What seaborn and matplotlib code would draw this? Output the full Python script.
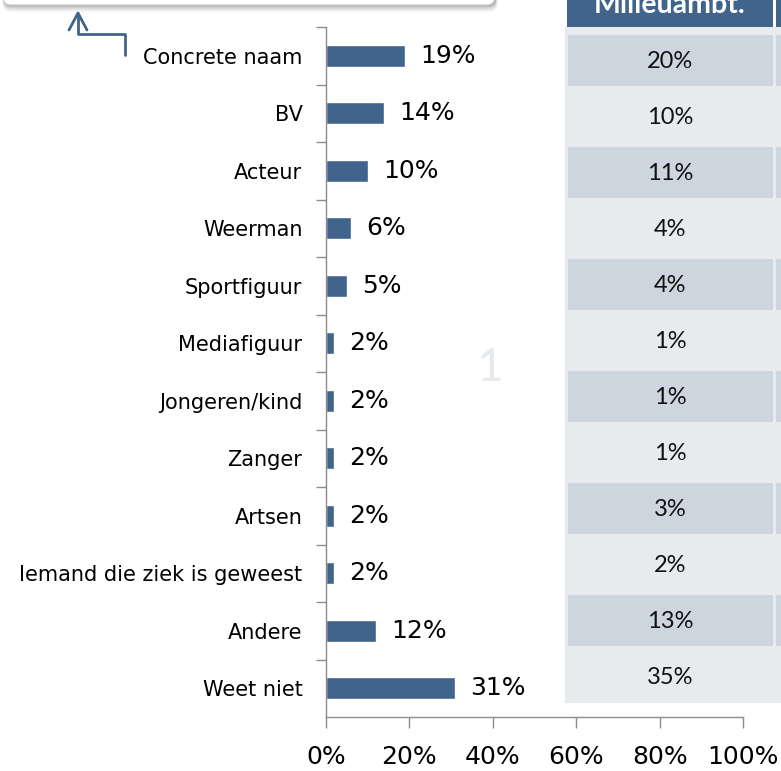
import numpy as np
import pandas as pd
import matplotlib
matplotlib.use("Agg")
import matplotlib.pyplot as plt
from matplotlib.patches import Rectangle, FancyBboxPatch
from matplotlib.lines import Line2D
import seaborn as sns

# Survey answers: who should deliver the message
categories = ["Concrete naam", "BV", "Acteur", "Weerman", "Sportfiguur",
              "Mediafiguur", "Jongeren/kind", "Zanger", "Artsen",
              "Iemand die ziek is geweest", "Andere", "Weet niet"]
values = [19, 14, 10, 6, 5, 2, 2, 2, 2, 2, 12, 31]

# Comparison column shown beside the chart
table_header = "Milieuambt."
milieu_values = [20, 10, 11, 4, 4, 1, 1, 1, 3, 2, 13, 35]

x_ticks = [0, 20, 40, 60, 80, 100]
x_tick_labels = ["0%", "20%", "40%", "60%", "80%", "100%"]

BAR_BLUE = "#41648c"
AXIS_GREY = "#8c8c8c"
W, H = 781, 771

sns.set_style("white")
plt.rcParams["font.family"] = ["DejaVu Sans"]

fig = plt.figure(figsize=(W / 100, H / 100), dpi=100)
fig.patch.set_facecolor("white")

# Background overlay in pixel coordinates (table, header box, icon)
bg = fig.add_axes([0, 0, 1, 1], zorder=0)
bg.set_xlim(0, W)
bg.set_ylim(H, 0)
bg.axis("off")

# Rounded title box at the top with a soft shadow
for k, a in enumerate([0.10, 0.08, 0.06, 0.05, 0.04, 0.03]):
    bg.add_patch(FancyBboxPatch((4 - k * 0.3, -40), 492 + k * 0.6, 46 + k * 1.2,
                                boxstyle="round,pad=0,rounding_size=8",
                                facecolor="black", edgecolor="none", alpha=a))
bg.add_patch(FancyBboxPatch((3, -40), 492, 45,
                            boxstyle="round,pad=0,rounding_size=8",
                            facecolor="white", edgecolor="#c8c8c8", lw=0.8))

# Return-arrow icon
bg.add_line(Line2D([125, 125, 78, 78], [55, 34, 34, 14], color=BAR_BLUE, lw=2))
bg.add_line(Line2D([69, 78, 87], [30, 13, 30], color=BAR_BLUE, lw=2))

# Faint slide number
bg.text(490, 368, "1", fontsize=33, color="#e6eaee", ha="center", va="center",
        family=["Lato", "DejaVu Sans"])

# Comparison table panel
bg.add_patch(Rectangle((565, 27), W - 565, 703 - 27, facecolor="#e7ebee", edgecolor="none"))
bg.add_patch(Rectangle((567, 0), 773 - 567, 27, facecolor=BAR_BLUE, edgecolor="none"))
bg.add_patch(Rectangle((776, 0), 10, 27, facecolor=BAR_BLUE, edgecolor="none"))
bg.text(670, 13, table_header, fontsize=20.5, fontweight="bold", color="white",
        ha="center", va="baseline", family=["Lato", "DejaVu Sans"])
row_top, row_h = 31.0, 56.0
for i, v in enumerate(milieu_values):
    top = row_top + i * row_h
    if i % 2 == 0:
        bg.add_patch(Rectangle((568, top + 4), 773 - 568, 51,
                               facecolor="#cdd5de", edgecolor="none"))
        bg.add_patch(Rectangle((776, top + 4), 10, 51,
                               facecolor="#cdd5de", edgecolor="none"))
    bg.text(670, top + 31, f"{v}%", fontsize=17, color="#111111",
            ha="center", va="center", family=["Lato", "DejaVu Sans"])

# Main bar chart
ax = fig.add_axes([326 / W, 1 - 717 / H, 417 / W, 690 / H], zorder=2)
ax.patch.set_alpha(0)
df = pd.DataFrame({"Categorie": categories, "Aandeel": values})
sns.barplot(data=df, x="Aandeel", y="Categorie", orient="h", color=BAR_BLUE,
            saturation=1, width=0.39, ax=ax)
ax.set_xlim(0, 100)
ax.set_ylim(len(categories) - 0.5, -0.5)
ax.set_xlabel("")
ax.set_ylabel("")

ax.set_xticks(x_ticks)
ax.set_xticklabels(x_tick_labels)
ax.set_yticks(np.arange(len(categories)) - 0.5, minor=True)
ax.tick_params(axis="x", which="major", bottom=True, length=8, width=1,
               color=AXIS_GREY, pad=12, labelsize=18, labelcolor="black",
               direction="out")
ax.tick_params(axis="y", which="major", left=False, length=0, pad=17,
               labelsize=15, labelcolor="black")
ax.tick_params(axis="y", which="minor", left=True, length=7, width=1,
               color=AXIS_GREY, direction="out")

for side in ["top", "right"]:
    ax.spines[side].set_visible(False)
for side in ["left", "bottom"]:
    ax.spines[side].set_color(AXIS_GREY)
    ax.spines[side].set_linewidth(1)

for i, v in enumerate(values):
    ax.annotate(f"{v}%", xy=(v, i), xytext=(11, 0), textcoords="offset points",
                va="center", ha="left", fontsize=18, color="black")

fig.savefig("out.png", dpi=100)
